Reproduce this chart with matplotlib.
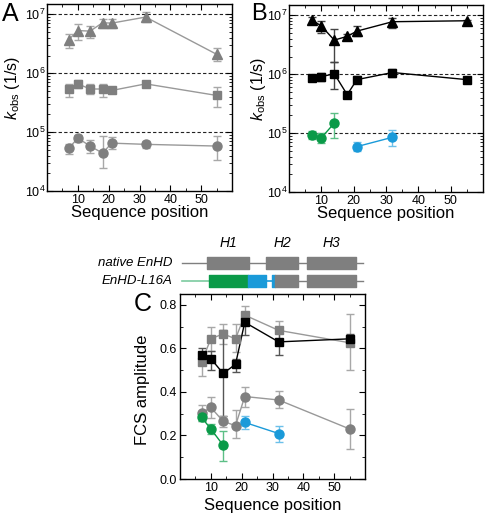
import matplotlib
matplotlib.use('Agg')
import matplotlib.pyplot as plt
from matplotlib.ticker import MultipleLocator, LogLocator, NullFormatter

plt.rcParams['font.family'] = ['Liberation Sans', 'DejaVu Sans']
plt.rcParams['mathtext.fontset'] = 'custom'
plt.rcParams['mathtext.rm'] = 'Liberation Sans'
plt.rcParams['mathtext.it'] = 'Liberation Sans:italic'

# sequence positions
pos = [7, 10, 14, 18, 21, 32, 55]
pos_green = [7, 10, 14]
pos_blue = [21, 32]

# Panel A: native EnHD rates (1/s), values and (low, high) error ends
a_tri = [3.7e6, 5.3e6, 5.2e6, 7.2e6, 7.1e6, 9.0e6, 2.1e6]
a_tri_lo = [2.7e6, 3.6e6, 4.0e6, 5.8e6, 5.9e6, 7.4e6, 1.6e6]
a_tri_hi = [4.6e6, 6.9e6, 6.4e6, 8.4e6, 8.3e6, 1.1e7, 2.7e6]
a_sq = [5.3e5, 6.6e5, 5.4e5, 5.4e5, 5.1e5, 6.6e5, 4.2e5]
a_sq_lo = [4.0e5, 5.6e5, 4.5e5, 4.0e5, 4.6e5, 6.0e5, 2.7e5]
a_sq_hi = [6.5e5, 7.8e5, 6.5e5, 6.6e5, 5.6e5, 7.2e5, 5.9e5]
a_ci = [5.3e4, 7.9e4, 5.8e4, 4.4e4, 6.5e4, 6.2e4, 5.8e4]
a_ci_lo = [4.2e4, 6.8e4, 4.5e4, 2.5e4, 5.2e4, 5.3e4, 3.4e4]
a_ci_hi = [6.4e4, 9.0e4, 7.4e4, 8.7e4, 8.2e4, 7.2e4, 8.7e4]

# Panel B: EnHD-L16A rates
b_tri = [8.4e6, 6.6e6, 3.8e6, 4.4e6, 5.4e6, 7.8e6, 8.1e6]
b_tri_lo = [7.0e6, 5.0e6, 1.6e6, 3.9e6, 4.4e6, 6.0e6, 7.8e6]
b_tri_hi = [9.5e6, 8.0e6, 5.8e6, 4.9e6, 6.6e6, 9.0e6, 8.4e6]
b_sq = [8.5e5, 9.1e5, 1.02e6, 4.5e5, 8.1e5, 1.07e6, 8.1e5]
b_sq_lo = [8.0e5, 7.8e5, 5.6e5, 4.3e5, 7.0e5, 9.0e5, 7.8e5]
b_sq_hi = [9.2e5, 1.05e6, 1.6e6, 4.7e5, 9.2e5, 1.25e6, 8.4e5]
b_green = [9.4e4, 8.3e4, 1.48e5]
b_green_lo = [8.0e4, 6.8e4, 8.3e4]
b_green_hi = [1.08e5, 1.0e5, 2.2e5]
b_blue = [5.9e4, 8.5e4]
b_blue_lo = [5.0e4, 6.0e4]
b_blue_hi = [7.0e4, 1.12e5]

# Panel C: FCS amplitudes
c_gsq = [0.538, 0.644, 0.667, 0.644, 0.753, 0.683, 0.626]
c_gsq_lo = [0.473, 0.590, 0.620, 0.583, 0.710, 0.640, 0.500]
c_gsq_hi = [0.583, 0.697, 0.712, 0.710, 0.795, 0.725, 0.760]
c_ksq = [0.568, 0.553, 0.485, 0.527, 0.720, 0.630, 0.644]
c_ksq_lo = [0.540, 0.503, 0.290, 0.490, 0.660, 0.570, 0.620]
c_ksq_hi = [0.600, 0.590, 0.685, 0.553, 0.750, 0.670, 0.668]
c_gci = [0.303, 0.329, 0.265, 0.245, 0.379, 0.363, 0.230]
c_gci_lo = [0.265, 0.280, 0.240, 0.190, 0.333, 0.325, 0.140]
c_gci_hi = [0.340, 0.376, 0.290, 0.318, 0.424, 0.405, 0.320]
c_green = [0.283, 0.230, 0.155]
c_green_lo = [0.265, 0.205, 0.083]
c_green_hi = [0.305, 0.255, 0.220]
c_blue = [0.260, 0.209]
c_blue_lo = [0.230, 0.170]
c_blue_hi = [0.288, 0.245]

# schematic segments (sequence coordinates)
native_helices = [(8.8, 22.4), (27.9, 38.3), (41.2, 57.1)]
helix_names = ['H1', 'H2', 'H3']
mutant_green = [(9.4, 22.2)]
mutant_blue = [(22.2, 27.8), (29.9, 30.8)]
mutant_gray = [(30.8, 38.3), (41.2, 57.1)]

GRAY = '#7f7f7f'
LGRAY = '#a8a8a8'
GREEN = '#0a9a48'
BLUE = '#1a9ad9'


def err(v, lo, hi):
    return [[a - b for a, b in zip(v, lo)], [b - a for a, b in zip(v, hi)]]


def plot_series(ax, x, v, lo, hi, marker, color, lcolor, ecolor, ms):
    ax.errorbar(x, v, yerr=err(v, lo, hi), fmt='none', ecolor=ecolor,
                elinewidth=1, capsize=3, capthick=1, zorder=2)
    ax.plot(x, v, '-', color=lcolor, lw=1, zorder=3)
    ax.plot(x, v, marker, color=color, ms=ms, ls='none', zorder=4)


def style(ax):
    ax.tick_params(which='both', direction='in', top=True, right=True,
                   labelsize=9, pad=2)
    ax.tick_params(which='major', length=4)
    ax.tick_params(which='minor', length=2)
    ax.set_xlim(0, 60)
    ax.xaxis.set_major_locator(MultipleLocator(10))
    ax.xaxis.set_minor_locator(MultipleLocator(5))
    ax.set_xticks([10, 20, 30, 40, 50])
    for s in ax.spines.values():
        s.set_linewidth(1)


def style_log(ax):
    style(ax)
    ax.set_yscale('log')
    ax.set_ylim(1e4, 1.5e7)
    ax.set_yticks([1e4, 1e5, 1e6, 1e7])
    ax.yaxis.set_minor_locator(LogLocator(base=10, subs=range(2, 10)))
    ax.yaxis.set_minor_formatter(NullFormatter())
    ax.tick_params(axis='y', pad=1)
    for yv in [1e5, 1e6, 1e7]:
        ax.axhline(yv, color='#222222', ls=(0, (3, 2)), lw=0.8, zorder=1)
    ax.set_xlabel('Sequence position', fontsize=12)
    ax.xaxis.set_label_coords(0.5, -0.075)


fig = plt.figure(figsize=(4.86, 5.18), dpi=100)
W, H = 486.0, 518.0


def add_axes(l, t, r, b):
    return fig.add_axes([l / W, 1 - b / H, (r - l) / W, (b - t) / H])


axA = add_axes(47, 4, 232, 191)
axB = add_axes(289, 5, 483, 192)
axC = add_axes(180, 294, 365, 479)
axS = add_axes(180, 238, 365, 290)

# Panel A
style_log(axA)
plot_series(axA, pos, a_tri, a_tri_lo, a_tri_hi, '^', GRAY, '#999999', LGRAY, 7)
plot_series(axA, pos, a_sq, a_sq_lo, a_sq_hi, 's', GRAY, '#999999', LGRAY, 6)
plot_series(axA, pos, a_ci, a_ci_lo, a_ci_hi, 'o', GRAY, '#999999', LGRAY, 6.5)
axA.set_ylabel(r'$k_{\rm obs}$ (1/s)', fontsize=11.5)
axA.yaxis.set_label_coords(-0.135, 0.55)

# Panel B
style_log(axB)
plot_series(axB, pos, b_tri, b_tri_lo, b_tri_hi, '^', 'black', 'black', '#444444', 7)
plot_series(axB, pos, b_sq, b_sq_lo, b_sq_hi, 's', 'black', 'black', '#444444', 6)
plot_series(axB, pos_green, b_green, b_green_lo, b_green_hi, 'o', GREEN, GREEN, '#5cbf86', 6.5)
plot_series(axB, pos_blue, b_blue, b_blue_lo, b_blue_hi, 'o', BLUE, BLUE, '#6cc0ea', 6.5)
axB.set_ylabel(r'$k_{\rm obs}$ (1/s)', fontsize=11.5)
axB.yaxis.set_label_coords(-0.11, 0.55)

# Panel C
style(axC)
axC.set_ylim(0, 0.85)
axC.yaxis.set_major_locator(MultipleLocator(0.2))
axC.yaxis.set_minor_locator(MultipleLocator(0.1))
axC.set_yticks([0.0, 0.2, 0.4, 0.6, 0.8])
axC.set_yticklabels(['0.0', '0.2', '0.4', '0.6', '0.8'])
plot_series(axC, pos, c_gsq, c_gsq_lo, c_gsq_hi, 's', GRAY, '#999999', LGRAY, 6)
plot_series(axC, pos, c_ksq, c_ksq_lo, c_ksq_hi, 's', 'black', 'black', '#555555', 6)
plot_series(axC, pos, c_gci, c_gci_lo, c_gci_hi, 'o', GRAY, '#999999', LGRAY, 6.5)
plot_series(axC, pos_green, c_green, c_green_lo, c_green_hi, 'o', GREEN, GREEN, '#5cbf86', 6.5)
plot_series(axC, pos_blue, c_blue, c_blue_lo, c_blue_hi, 'o', BLUE, BLUE, '#6cc0ea', 6.5)
axC.set_xlabel('Sequence position', fontsize=12)
axC.xaxis.set_label_coords(0.5, -0.105)
axC.set_ylabel('FCS amplitude', fontsize=12)
axC.yaxis.set_label_coords(-0.16, 0.48)

# schematic
axS.set_xlim(0, 60)
axS.set_ylim(0, 52)
axS.axis('off')
row_n, row_m, bh = 27, 9, 12
axS.plot([0.6, 59.5], [row_n, row_n], color=GRAY, lw=1, zorder=1)
for (s, e), name in zip(native_helices, helix_names):
    axS.broken_barh([(s, e - s)], (row_n - bh / 2, bh), color=GRAY, zorder=2)
    axS.text((s + e) / 2, 47, name, ha='center', va='center',
             style='italic', fontsize=10)
axS.plot([0.6, mutant_green[0][0]], [row_m, row_m], color='#7ccba0', lw=1.2, zorder=1)
axS.plot([mutant_blue[0][1], mutant_blue[1][0]], [row_m, row_m], color=BLUE, lw=1.2, zorder=1)
axS.plot([mutant_gray[0][0], 59.5], [row_m, row_m], color=GRAY, lw=1, zorder=1)
for s, e in mutant_green:
    axS.broken_barh([(s, e - s)], (row_m - bh / 2, bh), color=GREEN, zorder=2)
for s, e in mutant_blue:
    axS.broken_barh([(s, e - s)], (row_m - bh / 2, bh), color=BLUE, zorder=2)
for s, e in mutant_gray:
    axS.broken_barh([(s, e - s)], (row_m - bh / 2, bh), color=GRAY, zorder=2)
axS.text(-2.3, row_n, 'native EnHD', ha='right', va='center', style='italic',
         fontsize=9.5, clip_on=False)
axS.text(-2.3, row_m, 'EnHD-L16A', ha='right', va='center', style='italic',
         fontsize=9.5, clip_on=False)

# panel letters
fig.text(2 / W, 1 - 14 / H, 'A', fontsize=18, va='center', ha='left')
fig.text(251 / W, 1 - 14 / H, 'B', fontsize=17, va='center', ha='left')
fig.text(134 / W, 1 - 304 / H, 'C', fontsize=18, va='center', ha='left')

fig.savefig('out.png', dpi=100)
